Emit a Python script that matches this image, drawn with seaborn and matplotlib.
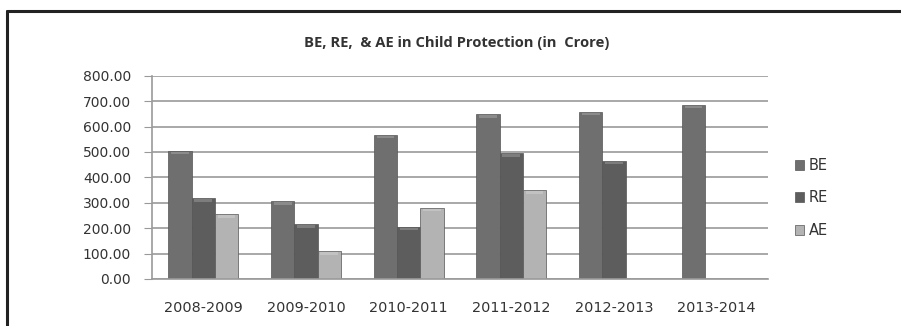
import matplotlib
matplotlib.use("Agg")
import matplotlib.pyplot as plt
import seaborn as sns
import pandas as pd
from matplotlib.lines import Line2D
from matplotlib.patches import Rectangle

years = ["2008-2009", "2009-2010", "2010-2011", "2011-2012", "2012-2013", "2013-2014"]
be = [504, 307, 567, 648, 659, 685]
re_ = [318, 216, 206, 495, 465, 0]
ae = [255, 110, 281, 350, 0, 0]
series = ["BE", "RE", "AE"]
colors = {"BE": "#6f6f6f", "RE": "#5d5d5d", "AE": "#b3b3b3"}
yticks = [0, 100, 200, 300, 400, 500, 600, 700, 800]

df = pd.DataFrame({"Year": years * 3,
                   "Series": ["BE"] * 6 + ["RE"] * 6 + ["AE"] * 6,
                   "Value": be + re_ + ae})

sns.set_theme(style="white")
plt.rcParams["font.family"] = ["DejaVu Sans"]

fig = plt.figure(figsize=(9.01, 3.26), dpi=100)
ax = fig.add_axes([152 / 901, 1 - 279 / 326, (768 - 152) / 901, (279 - 75.7) / 326])

sns.barplot(data=df, x="Year", y="Value", hue="Series", order=years,
            hue_order=series, palette=colors, width=0.68, saturation=1,
            edgecolor="#555555", linewidth=0.5, ax=ax, legend=False)

# soft highlight along the top of each bar, like a bevelled column
for p in ax.patches:
    h = p.get_height()
    if h > 0:
        x0, w = p.get_x(), p.get_width()
        ax.add_patch(Rectangle((x0 + w * 0.12, h - 14), w * 0.76, 10,
                               facecolor="white", alpha=0.2, linewidth=0, zorder=3))

ax.set_ylim(0, 800)
ax.set_yticks(yticks)
ax.set_yticklabels([f"{v:.2f}" for v in yticks], fontsize=10, color="#333333")
ax.tick_params(axis="y", length=6, color="#999999", pad=9, width=0.8, direction="out", left=True)
ax.tick_params(axis="x", length=0, pad=16, labelsize=10.4, labelcolor="#333333")
ax.set_xlabel("")
ax.set_ylabel("")
ax.set_axisbelow(True)
ax.yaxis.grid(True, color="#9a9a9a", linewidth=1.2)
for s in ["top", "right"]:
    ax.spines[s].set_visible(False)
ax.spines["left"].set_color("#9a9a9a")
ax.spines["bottom"].set_color("#9a9a9a")
ax.spines["left"].set_linewidth(1.2)
ax.spines["bottom"].set_linewidth(1.2)

fig.text(457 / 901, 1 - 43 / 326, "BE, RE,  & AE in Child Protection (in  Crore)",
         ha="center", va="center", fontsize=10.6, fontweight="bold", color="#333333",
         family="Open Sans")

handles = [Rectangle((0, 0), 1, 1, facecolor=colors[s], edgecolor="#555555", linewidth=0.5)
           for s in series]
leg = fig.legend(handles, series, loc="upper left", bbox_to_anchor=(789 / 901, 1 - 152 / 326),
                 frameon=False, fontsize=10.5, handlelength=0.65, handleheight=0.65,
                 handletextpad=0.3, labelspacing=1.2, borderaxespad=0)
for t in leg.get_texts():
    t.set_color("#333333")

# frame around the chart area
fig.add_artist(Line2D([7 / 901, 1.0], [1 - 11 / 326] * 2, color="#222222", linewidth=2.2))
fig.add_artist(Line2D([7 / 901] * 2, [0, 1 - 11 / 326], color="#222222", linewidth=2.2))

fig.savefig("out.png", dpi=100)
